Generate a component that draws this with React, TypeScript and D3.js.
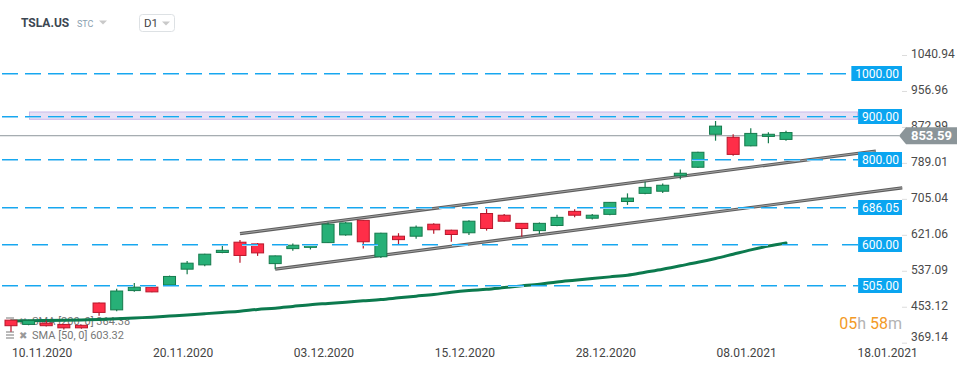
import React, { useEffect, useRef } from "react";
import * as d3 from "d3";

// trading days shown on the chart
const dates = [
  "10.11.2020", "11.11.2020", "12.11.2020", "13.11.2020", "16.11.2020", "17.11.2020", "18.11.2020", "19.11.2020",
  "20.11.2020", "23.11.2020", "24.11.2020", "25.11.2020", "27.11.2020", "30.11.2020", "01.12.2020", "02.12.2020",
  "03.12.2020", "04.12.2020", "07.12.2020", "08.12.2020", "09.12.2020", "10.12.2020", "11.12.2020", "14.12.2020",
  "15.12.2020", "16.12.2020", "17.12.2020", "18.12.2020", "21.12.2020", "22.12.2020", "23.12.2020", "24.12.2020",
  "28.12.2020", "29.12.2020", "30.12.2020", "31.12.2020", "04.01.2021", "05.01.2021", "06.01.2021", "07.01.2021",
  "08.01.2021", "11.01.2021", "12.01.2021", "13.01.2021", "14.01.2021",
];
// empty slots to the right of the last candle
const futureDates = ["15.01.2021", "16.01.2021", "17.01.2021", "18.01.2021"];

const opens = [
  423, 413, 416, 413, 411, 463, 447, 492, 500, 505, 542, 552, 581, 605, 601, 555,
  590, 593, 604, 622, 656, 571, 619, 619, 647, 633, 627, 672, 668, 649, 632, 644,
  677, 661, 670, 700, 719, 724, 760, 780, 857, 850, 830, 852, 845,
];
const highs = [
  424, 424, 422, 414, 412, 464, 496, 510, 503, 527, 561, 578, 599, 610, 603, 574,
  602, 599, 651, 652, 657, 627, 626, 644, 649, 634, 656, 686, 671, 650, 651, 669,
  682, 671, 699, 719, 746, 742, 775, 816, 888, 857, 871, 862, 865,
];
const lows = [
  396, 411, 408, 401, 403, 433, 444, 489, 488, 502, 530, 549, 579, 557, 573, 542,
  585, 588, 603, 620, 590, 568, 600, 613, 625, 606, 622, 632, 652, 618, 624, 642,
  663, 658, 668, 692, 717, 720, 752, 778, 842, 807, 829, 836, 842,
];
const closes = [
  410, 422, 410, 405, 405, 441, 491, 500, 489, 525, 556, 577, 586, 574, 580, 573,
  598, 598, 647, 650, 606, 626, 611, 640, 634, 623, 654, 637, 654, 637, 649, 663,
  668, 668, 698, 708, 733, 738, 766, 815, 876, 810, 859, 857, 861,
];
const sma50 = [
  421, 421.5, 422, 422.5, 423.5, 424.5, 426, 428, 430, 432.5, 435, 438, 441, 444, 448, 451,
  455, 459, 462, 465, 468, 471, 475, 479, 483, 488, 492, 495, 499, 503, 507, 512,
  516, 520, 524, 528, 535, 542, 550, 558, 567, 577, 587, 596, 603,
];

const yTicks = [1040.94, 956.96, 872.99, 789.01, 705.04, 621.06, 537.09, 453.12, 369.14];
const xTickLabels = ["10.11.2020", "20.11.2020", "03.12.2020", "15.12.2020", "28.12.2020", "08.01.2021", "18.01.2021"];

const levels = [
  { price: 1000, label: "1000.00", gap: 7 },
  { price: 900, label: "900.00", gap: 7 },
  { price: 800, label: "800.00", gap: 7 },
  { price: 686.05, label: "686.05", gap: 7 },
  { price: 600, label: "600.00", gap: 14 },
  { price: 505, label: "505.00", gap: 7 },
];
const band = { from: 892, to: 909 };
// channel lines: [index, price] -> [index, price]
const channel = [
  { i1: 13, p1: 625, i2: 49.1, p2: 818 },
  { i1: 15, p1: 542, i2: 50.6, p2: 732 },
];
const lastPrice = 853.59;
const legend = ["SMA [200, 0] 364.38", "SMA [50, 0] 603.32"];

const FONT = "Roboto, 'Noto Sans', sans-serif";

const Chart = () => {
  const ref = useRef<SVGSVGElement>(null);

  useEffect(() => {
    document.body.style.margin = "0";
    const svg = d3.select(ref.current);
    svg.selectAll("*").remove();

    const width = 970;
    const height = 368;
    svg.attr("width", width).attr("height", height).style("font-family", FONT).style("display", "block");

    const allDates = dates.concat(futureDates);
    const x = d3.scaleLinear().domain([0, dates.length - 1]).range([11, 786]);
    const y = d3.scaleLinear().domain([369.14, 1040.94]).range([343.2, 55.5]);
    const plotRight = 900;

    svg.append("rect").attr("width", width).attr("height", height).attr("fill", "#fff");

    // header
    svg.append("text").attr("x", 21).attr("y", 26.5).attr("font-size", 12).attr("font-weight", 700)
      .attr("fill", "#3c4752").text("TSLA.US");
    svg.append("text").attr("x", 77).attr("y", 26.5).attr("font-size", 9).attr("fill", "#8aa0b0").text("STC");
    svg.append("path").attr("d", "M99,20.5 L107,20.5 L103,24.5 Z").attr("fill", "#c9c9c9");
    svg.append("rect").attr("x", 139.5).attr("y", 14.5).attr("width", 35).attr("height", 17).attr("rx", 3)
      .attr("fill", "#fff").attr("stroke", "#dde1e4");
    svg.append("text").attr("x", 144).attr("y", 26.5).attr("font-size", 11.5).attr("fill", "#444").text("D1");
    svg.append("path").attr("d", "M162,21.5 L170,21.5 L166,25.5 Z").attr("fill", "#c9c9c9");

    // legend (under the plot marks)
    legend.forEach((t, k) => {
      const ly = 321 + k * 14;
      [-4, -1, 2].forEach(off => {
        svg.append("rect").attr("x", 6).attr("y", ly + off).attr("width", 8).attr("height", 2).attr("fill", "#bbb");
      });
      svg.append("text").attr("x", 19).attr("y", ly).attr("dy", "0.35em").attr("font-size", 10)
        .attr("fill", "#999").text("✖");
      svg.append("text").attr("x", 32).attr("y", ly).attr("dy", "0.35em").attr("font-size", 11)
        .attr("fill", "#777").text(t);
    });

    // resistance band at 900
    svg.append("rect")
      .attr("x", 29.5).attr("width", 828)
      .attr("y", y(band.to)).attr("height", y(band.from) - y(band.to))
      .attr("fill", "#e6e0f5").attr("stroke", "#c9b9ea");

    // last price line
    svg.append("line").attr("x1", 0).attr("x2", 899).attr("y1", y(lastPrice)).attr("y2", y(lastPrice))
      .attr("stroke", "#8e979b").attr("stroke-width", 1);

    // channel
    channel.forEach(c => {
      svg.append("line")
        .attr("x1", x(c.i1)).attr("y1", y(c.p1)).attr("x2", x(c.i2)).attr("y2", y(c.p2))
        .attr("stroke", "#5e5e5e").attr("stroke-width", 3.2);
      svg.append("line")
        .attr("x1", x(c.i1)).attr("y1", y(c.p1)).attr("x2", x(c.i2)).attr("y2", y(c.p2))
        .attr("stroke", "#a3a3a3").attr("stroke-width", 1);
    });

    // SMA 50
    const smaLine = d3.line<number>().x((_, i) => x(i)).y(d => y(d)).curve(d3.curveMonotoneX);
    svg.append("path").attr("d", smaLine(sma50)).attr("fill", "none")
      .attr("stroke", "#0c7a4e").attr("stroke-width", 3).attr("stroke-linecap", "round");

    // candles
    const candles = dates.map((d, i) => ({ d, i, o: opens[i], h: highs[i], l: lows[i], c: closes[i] }));
    const up = (k: any) => k.c >= k.o;
    svg.selectAll("line.wick").data(candles).enter().append("line")
      .attr("x1", k => x(k.i)).attr("x2", k => x(k.i))
      .attr("y1", k => y(k.h)).attr("y2", k => y(k.l))
      .attr("stroke", k => (up(k) ? "#157a4c" : "#b8172b")).attr("stroke-width", 1.2);
    svg.selectAll("rect.body").data(candles).enter().append("rect")
      .attr("x", k => x(k.i) - 6)
      .attr("y", k => y(Math.max(k.o, k.c)))
      .attr("width", 12)
      .attr("height", k => Math.max(1.5, Math.abs(y(k.o) - y(k.c))))
      .attr("fill", k => (up(k) ? "#27b077" : "#ff2e48"))
      .attr("stroke", k => (up(k) ? "#157a4c" : "#b8172b")).attr("stroke-width", 1);

    // horizontal levels with labels (dashes two pixel rows: solid + soft)
    const levelG = svg.append("g");
    levels.forEach(lv => {
      const ly = Math.round(y(lv.price));
      const box = levelG.append("rect");
      const t = levelG.append("text").attr("x", 899).attr("y", ly + 0.5).attr("dy", "0.35em")
        .attr("text-anchor", "end").attr("font-size", 12).attr("fill", "#ffffff").text(lv.label);
      const w = (t.node() as SVGTextElement).getComputedTextLength() + 7;
      box.attr("x", 902 - w).attr("y", ly - 7).attr("width", w).attr("height", 15).attr("fill", "#0aa5f0");
      const end = 902 - w;
      const starts = d3.range(2, end, 16 + lv.gap);
      const dashes = levelG.selectAll(null).data(starts).enter();
      dashes.append("rect")
        .attr("x", s => s).attr("y", ly).attr("height", 1)
        .attr("width", s => Math.min(16, end - s))
        .attr("fill", "#16a8f0");
      dashes.append("rect")
        .attr("x", s => s).attr("y", ly + 1).attr("height", 1)
        .attr("width", s => Math.min(16, end - s))
        .attr("fill", "#8fd2f6");
    });

    // right axis
    yTicks.forEach(v => {
      svg.append("line").attr("x1", 902).attr("x2", 907).attr("y1", y(v)).attr("y2", y(v))
        .attr("stroke", "#dcdcdc");
      svg.append("text").attr("x", 911).attr("y", Math.min(y(v) - 1.5, 337)).attr("dy", "0.35em")
        .attr("font-size", 12).attr("fill", "#4a4a4a").text(v.toFixed(2));
    });

    // last price tag
    const py = y(lastPrice);
    svg.append("path")
      .attr("d", `M899,${py} L906,${py - 8.5} L957,${py - 8.5} L957,${py + 8.5} L906,${py + 8.5} Z`)
      .attr("fill", "#8b9599");
    svg.append("text").attr("x", 931.5).attr("y", py).attr("dy", "0.35em").attr("text-anchor", "middle")
      .attr("font-size", 13).attr("font-weight", 700).attr("fill", "#fff").text(lastPrice.toFixed(2));

    // bottom axis
    xTickLabels.forEach(lbl => {
      const i = allDates.indexOf(lbl);
      svg.append("text").attr("x", x(i) + 1).attr("y", 357).attr("font-size", 12)
        .attr("fill", "#444").text(lbl);
    });

    // candle timer
    const timer = svg.append("text").attr("x", plotRight + 2).attr("y", 329).attr("text-anchor", "end")
      .attr("font-size", 16);
    timer.append("tspan").attr("fill", "#f39a26").text("05");
    timer.append("tspan").attr("fill", "#b3b3b3").text("h ");
    timer.append("tspan").attr("fill", "#f39a26").text("58");
    timer.append("tspan").attr("fill", "#b3b3b3").text("m");
  }, []);

  return <svg ref={ref}></svg>;
};

export default function App() {
  return <Chart />;
}
